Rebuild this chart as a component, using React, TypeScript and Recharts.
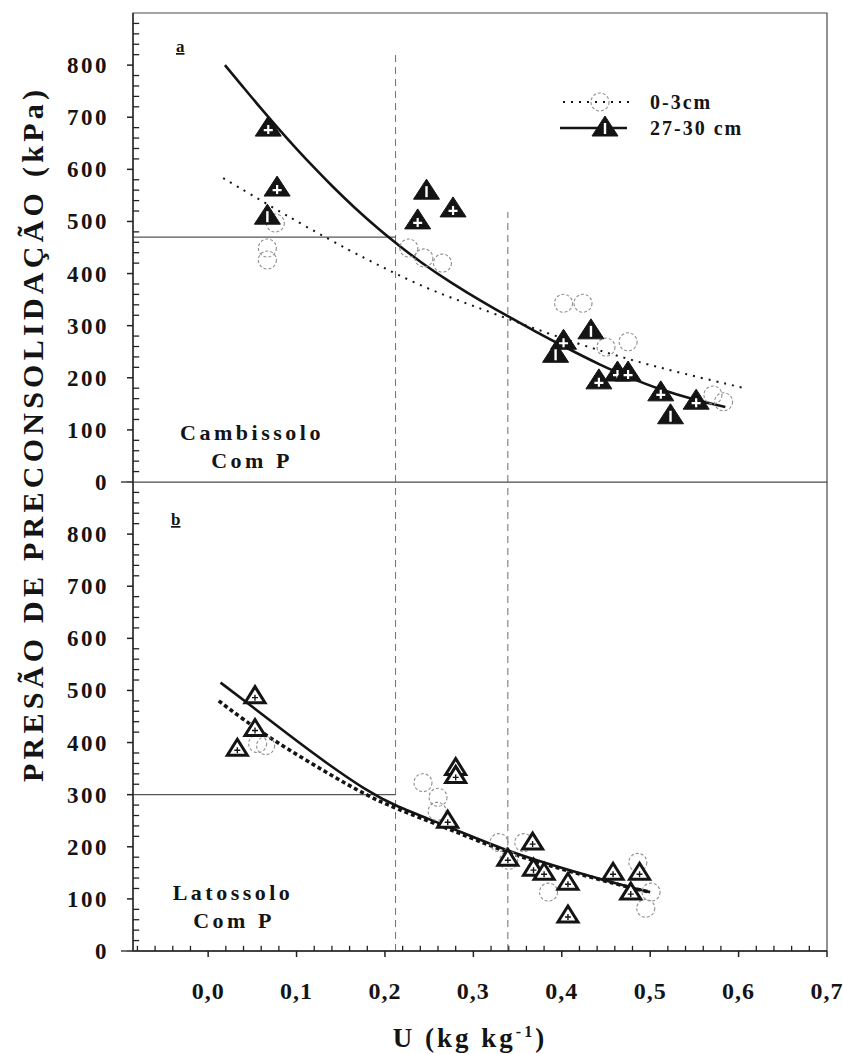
import React from 'react';
import {
  ComposedChart,
  Line,
  Scatter,
  XAxis,
  YAxis,
  ReferenceLine,
  ReferenceArea,
} from 'recharts';

type Pt = { u: number; v: number };

// ---------- Cambissolo (panel a) ----------
const cambObs03: Pt[] = [
  { u: 0.076, v: 497 }, { u: 0.067, v: 449 }, { u: 0.067, v: 426 },
  { u: 0.227, v: 449 }, { u: 0.244, v: 430 }, { u: 0.265, v: 420 },
  { u: 0.402, v: 343 }, { u: 0.424, v: 343 }, { u: 0.45, v: 259 },
  { u: 0.475, v: 269 }, { u: 0.571, v: 167 }, { u: 0.583, v: 154 },
];
const cambObs2730Cross: Pt[] = [
  { u: 0.068, v: 681 }, { u: 0.078, v: 566 }, { u: 0.237, v: 503 },
  { u: 0.277, v: 526 }, { u: 0.402, v: 272 }, { u: 0.442, v: 196 },
  { u: 0.463, v: 211 }, { u: 0.475, v: 211 }, { u: 0.512, v: 173 },
  { u: 0.552, v: 157 },
];
const cambObs2730Bar: Pt[] = [
  { u: 0.067, v: 512 }, { u: 0.247, v: 560 }, { u: 0.393, v: 247 },
  { u: 0.433, v: 292 }, { u: 0.523, v: 129 },
];
const cambFit03: Pt[] = [
  { u: 0.017, v: 583 }, { u: 0.05, v: 550 }, { u: 0.085, v: 515 },
  { u: 0.138, v: 464 }, { u: 0.18, v: 427 }, { u: 0.214, v: 398 },
  { u: 0.255, v: 366 }, { u: 0.3, v: 338 }, { u: 0.35, v: 306 },
  { u: 0.42, v: 264 }, { u: 0.48, v: 233 }, { u: 0.54, v: 207 },
  { u: 0.607, v: 180 },
];
const cambFit2730: Pt[] = [
  { u: 0.019, v: 800 }, { u: 0.04, v: 757 }, { u: 0.06, v: 716 },
  { u: 0.08, v: 677 }, { u: 0.1, v: 639 }, { u: 0.12, v: 603 },
  { u: 0.14, v: 568 }, { u: 0.165, v: 527 }, { u: 0.195, v: 482 },
  { u: 0.215, v: 455 }, { u: 0.24, v: 422 }, { u: 0.275, v: 382 },
  { u: 0.31, v: 346 }, { u: 0.34, v: 317 }, { u: 0.37, v: 289 },
  { u: 0.4, v: 262 }, { u: 0.445, v: 223 }, { u: 0.48, v: 198 },
  { u: 0.51, v: 178 }, { u: 0.55, v: 158 }, { u: 0.585, v: 144 },
];

// ---------- Latossolo (panel b) ----------
const latObs03: Pt[] = [
  { u: 0.056, v: 398 }, { u: 0.065, v: 394 }, { u: 0.243, v: 323 },
  { u: 0.26, v: 295 }, { u: 0.259, v: 268 }, { u: 0.329, v: 208 },
  { u: 0.357, v: 208 }, { u: 0.34, v: 174 }, { u: 0.385, v: 113 },
  { u: 0.486, v: 170 }, { u: 0.501, v: 113 }, { u: 0.495, v: 82 },
];
const latObs2730: Pt[] = [
  { u: 0.053, v: 490 }, { u: 0.053, v: 427 }, { u: 0.033, v: 389 },
  { u: 0.28, v: 352 }, { u: 0.28, v: 337 }, { u: 0.271, v: 251 },
  { u: 0.339, v: 178 }, { u: 0.367, v: 209 }, { u: 0.368, v: 159 },
  { u: 0.38, v: 151 }, { u: 0.407, v: 132 }, { u: 0.407, v: 69 },
  { u: 0.458, v: 151 }, { u: 0.488, v: 151 }, { u: 0.478, v: 113 },
];
const latFit03: Pt[] = [
  { u: 0.012, v: 480 }, { u: 0.04, v: 444 }, { u: 0.074, v: 404 },
  { u: 0.135, v: 341 }, { u: 0.18, v: 298 }, { u: 0.21, v: 275 },
  { u: 0.27, v: 236 }, { u: 0.34, v: 187 }, { u: 0.41, v: 152 },
  { u: 0.48, v: 120 }, { u: 0.5, v: 113 },
];
const latFit2730: Pt[] = [
  { u: 0.014, v: 515 }, { u: 0.05, v: 469 }, { u: 0.09, v: 416 },
  { u: 0.135, v: 359 }, { u: 0.18, v: 307 }, { u: 0.21, v: 279 },
  { u: 0.27, v: 240 }, { u: 0.34, v: 190 }, { u: 0.41, v: 154 },
  { u: 0.48, v: 121 }, { u: 0.5, v: 113 },
];

// critical moisture / pressure guides
const uCritLow = 0.212;
const uCritHigh = 0.339;
const cambCritPressure = 470;
const latCritPressure = 300;

// ---------- axes ----------
const X_DOMAIN: [number, number] = [-0.085, 0.7];
const Y_DOMAIN: [number, number] = [0, 900];
const yLabelValues = [0, 100, 200, 300, 400, 500, 600, 700, 800];
const xLabelValues = [0, 0.1, 0.2, 0.3, 0.4, 0.5, 0.6, 0.7];
const yMinorTicks = Array.from({ length: 45 }, (_, i) => i * 20).filter((v) => v % 100 !== 0);
const xMinorTicks = Array.from({ length: 40 }, (_, i) => Math.round((-0.08 + i * 0.02) * 100) / 100).filter(
  (u) => Math.abs(u * 10 - Math.round(u * 10)) > 1e-6,
);
// inward minor tick lengths, in axis units
const Y_MINOR_LEN = 0.007;
const X_MINOR_LEN = 10;

const SERIF = "'Liberation Serif', 'Times New Roman', serif";
const INK = '#141414';
const AXIS = '#222';

const W = 843;
const PLOT_LEFT = 133;
const PLOT_RIGHT = 16;

// label drawn at the outer end of the major tick; the zero tick runs a bit longer
const YLabel = (props: any) => {
  const { x, y, payload } = props;
  const v = Number(payload.value);
  return (
    <g>
      {v === 0 && <path d={`M${x - 6},${y} H${x}`} stroke={AXIS} strokeWidth={1.3} fill="none" />}
      <text
        x={x - 18}
        y={y + 8}
        textAnchor="end"
        fontFamily={SERIF}
        fontWeight="bold"
        fontSize={23}
        letterSpacing={2.5}
        fill={INK}
      >
        {v}
      </text>
    </g>
  );
};

const XLabel = (props: any) => {
  const { x, y, payload } = props;
  const v = Number(payload.value);
  return (
    <text
      x={x}
      y={y + 42}
      textAnchor="middle"
      fontFamily={SERIF}
      fontWeight="bold"
      fontSize={24}
      letterSpacing={1}
      fill={INK}
    >
      {v.toFixed(1).replace('.', ',')}
    </text>
  );
};

// ---------- markers ----------
const OpenCircle = (p: any) => (
  <circle cx={p.cx} cy={p.cy} r={9} fill="none" stroke="#8e8e8e" strokeWidth={1.1} strokeDasharray="3 2" />
);

const solidTriPath = (cx: number, cy: number) =>
  `M${cx},${cy - 11} L${cx + 13},${cy + 9} L${cx - 13},${cy + 9} Z`;

const SolidTriCross = (p: any) => {
  const { cx, cy } = p;
  return (
    <g>
      <path d={solidTriPath(cx, cy)} fill={INK} stroke={INK} strokeWidth={1} strokeLinejoin="round" />
      <path d={`M${cx},${cy - 2} V${cy + 7} M${cx - 4.5},${cy + 3} H${cx + 4.5}`} stroke="#fff" strokeWidth={2.2} />
    </g>
  );
};

const SolidTriBar = (p: any) => {
  const { cx, cy } = p;
  return (
    <g>
      <path d={solidTriPath(cx, cy)} fill={INK} stroke={INK} strokeWidth={1} strokeLinejoin="round" />
      <path d={`M${cx},${cy - 4} V${cy + 7}`} stroke="#fff" strokeWidth={2.4} />
    </g>
  );
};

const OpenTri = (p: any) => {
  const { cx, cy } = p;
  return (
    <g>
      <path
        d={`M${cx},${cy - 9} L${cx + 10},${cy + 7} L${cx - 10},${cy + 7} Z`}
        fill="#fff"
        stroke={INK}
        strokeWidth={3}
        strokeLinejoin="miter"
      />
      <path d={`M${cx},${cy - 1} V${cy + 5} M${cx - 3},${cy + 2} H${cx + 3}`} stroke={INK} strokeWidth={1.4} />
    </g>
  );
};

// ---------- panel ----------
type PanelProps = {
  height: number;
  marginTop: number;
  marginBottom: number;
  showX: boolean;
  fit03: Pt[];
  fit2730: Pt[];
  fit03Dash: string;
  fit03Width: number;
  obs03: Pt[];
  children?: React.ReactNode;
  critPressure: number;
  lowLineTop: number;
  highLineTop: number;
};

const Panel = (p: PanelProps) => (
  <ComposedChart
    width={W}
    height={p.height}
    margin={{ top: p.marginTop, right: PLOT_RIGHT, bottom: p.marginBottom, left: 0 }}
  >
    <XAxis
      type="number"
      dataKey="u"
      domain={X_DOMAIN}
      allowDataOverflow
      ticks={xLabelValues}
      interval={0}
      hide={!p.showX}
      height={p.showX ? 103 : 0}
      axisLine={{ stroke: AXIS, strokeWidth: 1.3 }}
      tickLine={{ stroke: AXIS, strokeWidth: 1.5 }}
      tickSize={6}
      tickMargin={0}
      tick={XLabel}
    />
    <YAxis
      type="number"
      dataKey="v"
      domain={Y_DOMAIN}
      allowDataOverflow
      ticks={yLabelValues}
      interval={0}
      width={PLOT_LEFT}
      axisLine={{ stroke: AXIS, strokeWidth: 1.3 }}
      tickLine={{ stroke: AXIS, strokeWidth: 1.5 }}
      tickSize={6}
      tickMargin={0}
      tick={YLabel}
    />
    <ReferenceArea
      x1={X_DOMAIN[0]}
      x2={X_DOMAIN[1]}
      y1={Y_DOMAIN[0]}
      y2={Y_DOMAIN[1]}
      fill="none"
      stroke="#4a4a4a"
      strokeWidth={1.2}
      fillOpacity={0}
    />
    {/* inward minor ticks along the value axis */}
    {yMinorTicks.map((v) => (
      <ReferenceLine
        key={`ym${v}`}
        segment={[{ x: X_DOMAIN[0], y: v }, { x: X_DOMAIN[0] + Y_MINOR_LEN, y: v }]}
        stroke={AXIS}
        strokeWidth={1.3}
      />
    ))}
    {/* inward minor ticks along the moisture axis */}
    {p.showX &&
      xMinorTicks.map((u) => (
        <ReferenceLine
          key={`xm${u}`}
          segment={[{ x: u, y: 0 }, { x: u, y: X_MINOR_LEN }]}
          stroke={AXIS}
          strokeWidth={1.3}
        />
      ))}
    <ReferenceLine
      segment={[{ x: uCritLow, y: 0 }, { x: uCritLow, y: p.lowLineTop }]}
      stroke="#6d6d6d"
      strokeWidth={1}
      strokeDasharray="7 5"
    />
    <ReferenceLine
      segment={[{ x: uCritHigh, y: 0 }, { x: uCritHigh, y: p.highLineTop }]}
      stroke="#6d6d6d"
      strokeWidth={1}
      strokeDasharray="7 5"
    />
    <ReferenceLine
      segment={[{ x: X_DOMAIN[0], y: p.critPressure }, { x: uCritLow, y: p.critPressure }]}
      stroke="#555"
      strokeWidth={1.1}
    />
    <Line
      data={p.fit03}
      dataKey="v"
      type="basis"
      stroke={INK}
      strokeWidth={p.fit03Width}
      strokeDasharray={p.fit03Dash}
      dot={false}
      isAnimationActive={false}
    />
    <Line
      data={p.fit2730}
      dataKey="v"
      type="basis"
      stroke={INK}
      strokeWidth={2.6}
      dot={false}
      isAnimationActive={false}
    />
    <Scatter data={p.obs03} dataKey="v" shape={<OpenCircle />} isAnimationActive={false} />
    {p.children}
  </ComposedChart>
);

const textStyle = {
  fontFamily: SERIF,
  fontWeight: 'bold' as const,
  fill: INK,
};

export default function App() {
  return (
    <div
      style={{
        position: 'absolute',
        left: 0,
        top: 0,
        width: W,
        height: 1054,
        background: '#fff',
        overflow: 'hidden',
      }}
    >
      <div style={{ position: 'absolute', left: 0, top: 0 }}>
        <Panel
          height={502}
          marginTop={13}
          marginBottom={20}
          showX={false}
          fit03={cambFit03}
          fit2730={cambFit2730}
          fit03Dash="2 6"
          fit03Width={2}
          obs03={cambObs03}
          critPressure={cambCritPressure}
          lowLineTop={823}
          highLineTop={518}
        >
          <Scatter data={cambObs2730Cross} dataKey="v" shape={<SolidTriCross />} isAnimationActive={false} />
          <Scatter data={cambObs2730Bar} dataKey="v" shape={<SolidTriBar />} isAnimationActive={false} />
        </Panel>
      </div>
      <div style={{ position: 'absolute', left: 0, top: 482 }}>
        <Panel
          height={572}
          marginTop={0}
          marginBottom={0}
          showX={true}
          fit03={latFit03}
          fit2730={latFit2730}
          fit03Dash="4 3"
          fit03Width={3.6}
          obs03={latObs03}
          critPressure={latCritPressure}
          lowLineTop={900}
          highLineTop={900}
        >
          <Scatter data={latObs2730} dataKey="v" shape={<OpenTri />} isAnimationActive={false} />
        </Panel>
      </div>

      <svg
        width={W}
        height={1054}
        style={{ position: 'absolute', left: 0, top: 0, pointerEvents: 'none' }}
      >
        {/* axis titles */}
        <text
          transform="translate(43, 436) rotate(-90)"
          textAnchor="middle"
          fontSize={30}
          textLength={692}
          lengthAdjust="spacing"
          {...textStyle}
        >
          PRESÃO DE PRECONSOLIDAÇÃO (kPa)
        </text>
        <text x={470} y={1047} textAnchor="middle" fontSize={27} letterSpacing={3} {...textStyle}>
          U (kg kg
          <tspan dy={-10} fontSize={16}>
            -1
          </tspan>
          <tspan dy={10}>)</tspan>
        </text>

        {/* panel tags */}
        <text x={176} y={52} fontSize={17} textDecoration="underline" {...textStyle}>
          a
        </text>
        <text x={171} y={525} fontSize={17} textDecoration="underline" {...textStyle}>
          b
        </text>
        <text x={252} y={440} textAnchor="middle" fontSize={22} letterSpacing={3.5} {...textStyle}>
          Cambissolo
        </text>
        <text x={252} y={468} textAnchor="middle" fontSize={22} letterSpacing={3.5} {...textStyle}>
          Com P
        </text>
        <text x={233} y={900} textAnchor="middle" fontSize={22} letterSpacing={3.5} {...textStyle}>
          Latossolo
        </text>
        <text x={234} y={928} textAnchor="middle" fontSize={22} letterSpacing={3.5} {...textStyle}>
          Com P
        </text>

        {/* legend */}
        <line x1={563} x2={633} y1={102} y2={102} stroke={INK} strokeWidth={2} strokeDasharray="2 6" />
        <OpenCircle cx={600} cy={102} />
        <text x={650} y={109} fontSize={20} letterSpacing={2} {...textStyle}>
          0-3cm
        </text>
        <line x1={560} x2={627} y1={128} y2={128} stroke={INK} strokeWidth={2.4} />
        <SolidTriBar cx={605} cy={127} />
        <text x={650} y={135} fontSize={20} letterSpacing={2} {...textStyle}>
          27-30 cm
        </text>
      </svg>
    </div>
  );
}
